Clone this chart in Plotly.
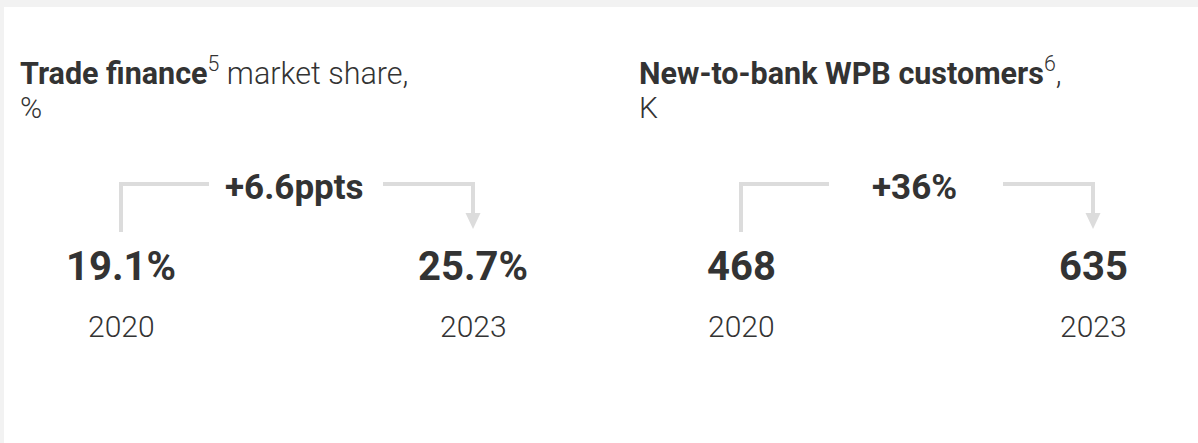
import plotly.graph_objects as go

# ---- data ----
titles_bold = ["Trade finance", "New-to-bank WPB customers"]
title_sup = ["5", "6"]
title_rest = [" market share,", ","]
units = ["%", "K"]
years = ["2020", "2023"]
values_start = ["19.1%", "468"]
values_end = ["25.7%", "635"]
changes = ["+6.6ppts", "+36%"]

# ---- layout constants (pixels) ----
W, H = 1198, 443
panel_offset = [0, 620]
title_x = 18
x_start, x_end = 121, 473
y_top, y_left_bottom = 184, 232
seg_len = 88
arrow_tip, arrow_base, arrow_half = 229, 213, 7.5
line_col = "#dcdcdc"
txt_col = "#333333"
FONT = "Roboto"

fig = go.Figure()
ann = []
for i in range(2):
    o = panel_offset[i]
    xs, xe = x_start + o, x_end + o
    # connector left part
    fig.add_trace(go.Scatter(x=[xs, xs, xs + seg_len], y=[y_left_bottom, y_top, y_top],
                             mode="lines", line=dict(color=line_col, width=4),
                             hoverinfo="skip", showlegend=False))
    fig.add_trace(go.Scatter(x=[xe - seg_len - 2, xe, xe], y=[y_top, y_top, arrow_base + 1],
                             mode="lines", line=dict(color=line_col, width=4),
                             hoverinfo="skip", showlegend=False))
    fig.add_trace(go.Scatter(x=[xe - arrow_half, xe + arrow_half, xe, xe - arrow_half],
                             y=[arrow_base, arrow_base, arrow_tip, arrow_base],
                             mode="lines", fill="toself", fillcolor=line_col,
                             line=dict(color=line_col, width=0),
                             hoverinfo="skip", showlegend=False))
    # titles
    tx = title_x + o - (1 if i else 0)
    ann.append(dict(x=tx, y=71, xanchor="left", yanchor="middle",
                    text=f"<b>{titles_bold[i]}</b><sup>{title_sup[i]}</sup>{title_rest[i]}",
                    font=dict(family=FONT, size=30.5, color=txt_col, weight=300)))
    ann.append(dict(x=tx, y=107, xanchor="left", yanchor="middle",
                    text=units[i],
                    font=dict(family=FONT, size=30, color=txt_col, weight=300)))
    # change label
    ann.append(dict(x=(xs + xe) / 2 - 3, y=187, xanchor="center", yanchor="middle",
                    text=f"<b>{changes[i]}</b>",
                    font=dict(family=FONT, size=35, color=txt_col)))
    # values
    for xv, v in ((xs, values_start[i]), (xe, values_end[i])):
        ann.append(dict(x=xv, y=266, xanchor="center", yanchor="middle",
                        text=f"<b>{v}</b>",
                        font=dict(family=FONT, size=40, color=txt_col)))
    for xv, yr in ((xs, years[0]), (xe, years[1])):
        ann.append(dict(x=xv, y=326, xanchor="center", yanchor="middle",
                        text=yr,
                        font=dict(family=FONT, size=30, color=txt_col, weight=300)))

for a in ann:
    a.update(xref="x", yref="y", showarrow=False)

shapes = [
    dict(type="rect", xref="x", yref="y", x0=0, x1=W, y0=0, y1=7,
         fillcolor="#f2f2f2", line=dict(width=0), layer="below"),
    dict(type="rect", xref="x", yref="y", x0=0, x1=4, y0=0, y1=H,
         fillcolor="#f2f2f2", line=dict(width=0), layer="below"),
]

fig.update_layout(
    width=W, height=H, margin=dict(l=0, r=0, t=0, b=0),
    paper_bgcolor="white", plot_bgcolor="white",
    xaxis=dict(range=[0, W], visible=False, fixedrange=True),
    yaxis=dict(range=[H, 0], visible=False, fixedrange=True),
    annotations=ann, shapes=shapes, showlegend=False,
)
fig.write_html("out.html", config={"displayModeBar": False})
